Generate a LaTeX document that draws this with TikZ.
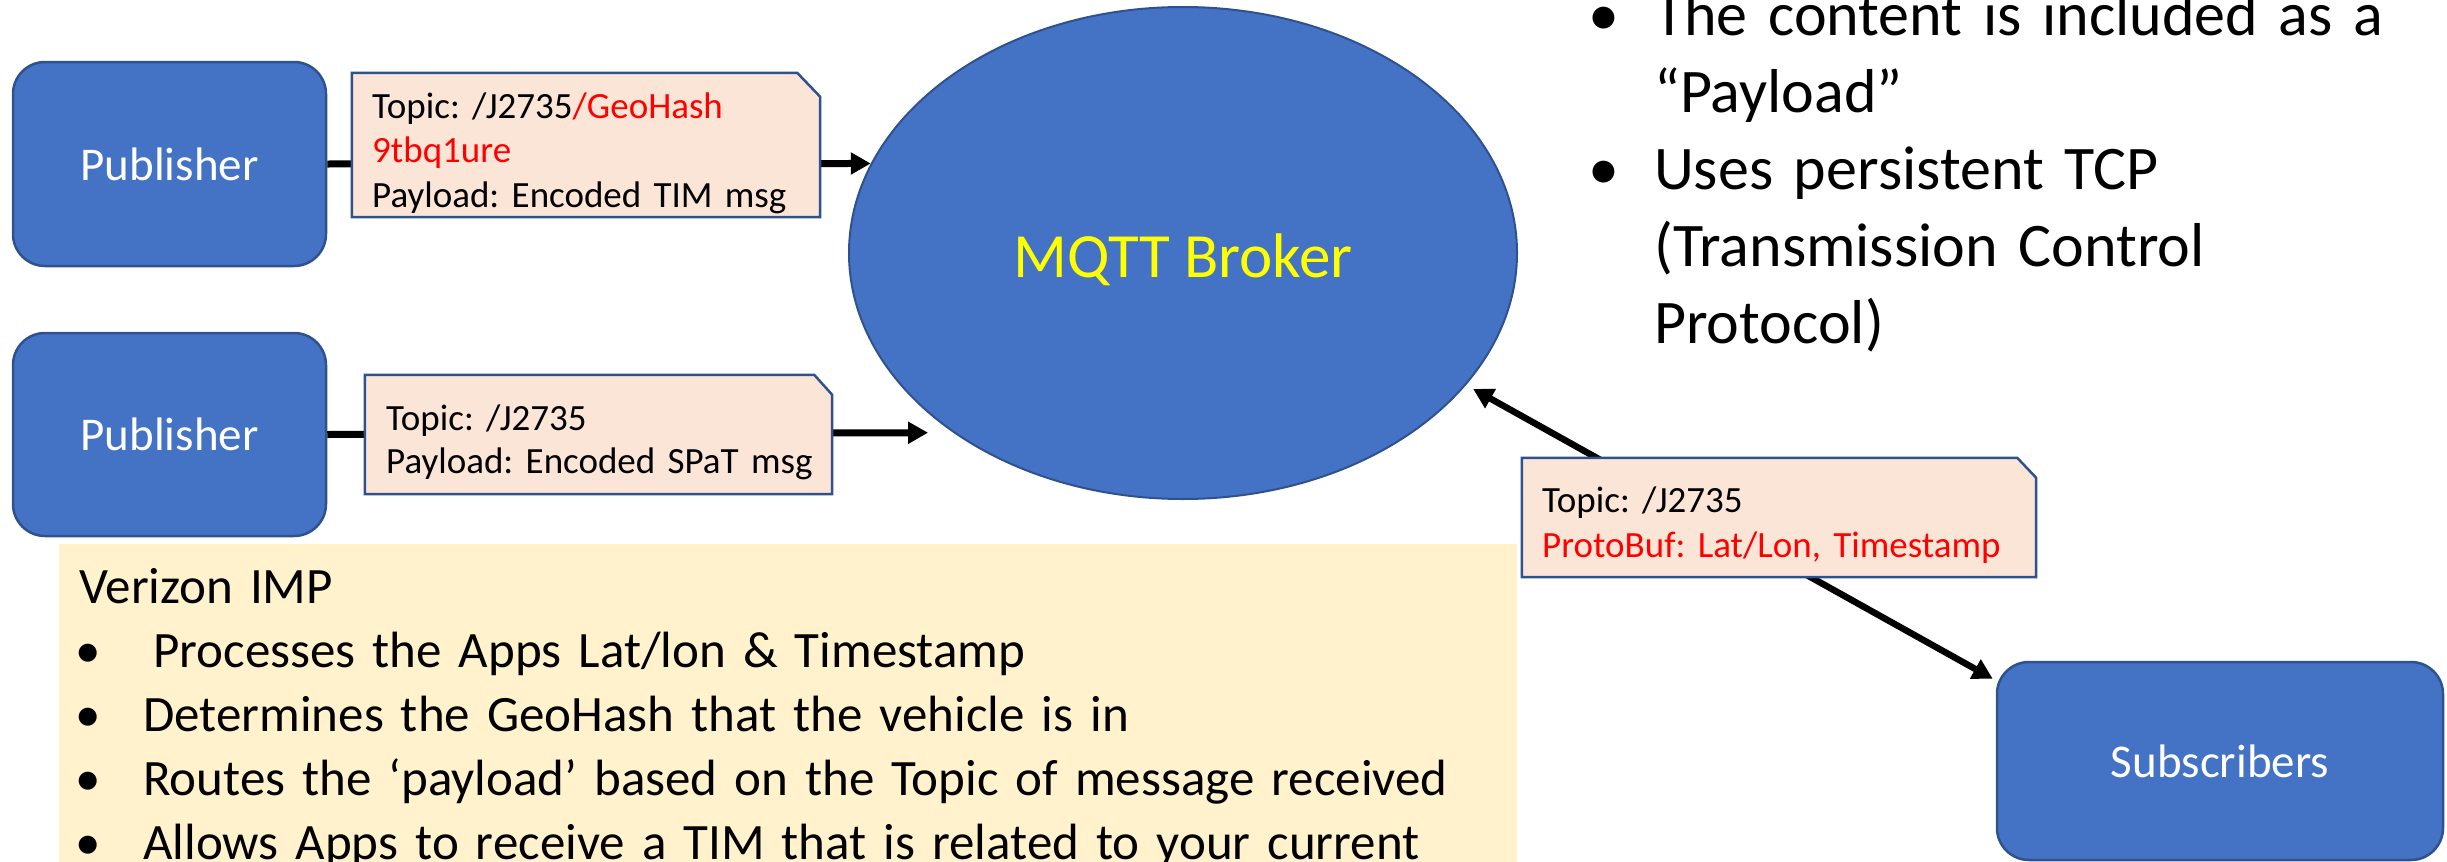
\documentclass[tikz,border=0pt]{standalone}
\usepackage{fontspec}
\setmainfont{Carlito}
\usetikzlibrary{shapes.geometric,arrows.meta}
\frenchspacing

\definecolor{boxblue}{HTML}{4472C4}
\definecolor{boxedge}{HTML}{2F528F}
\definecolor{notefill}{HTML}{FBE5D6}
\definecolor{impfill}{HTML}{FFF2CC}
\definecolor{alertred}{HTML}{FF0000}
\definecolor{brokertext}{HTML}{FFFF00}

\newcommand{\fsz}[2]{\fontsize{#1}{#2}\selectfont}
% bullet set in a fixed-width hanging column
\newcommand{\bul}[1]{\makebox[#1][l]{\hspace*{-4pt}•}}

% message card with a clipped top-right corner, drawn around a frame node
\newcommand{\notecard}[3]{%
  \filldraw[notebg] (#1.south west) -- (#1.north west)
    -- ([xshift=-#2pt]#1.north east) -- ([yshift=-#3pt]#1.north east)
    -- (#1.south east) -- cycle;}

\tikzset{
  actor/.style={rectangle, rounded corners=32pt, fill=boxblue, draw=boxedge,
    line width=2.5pt, text=white, font=\fsz{47}{57}, inner sep=0pt},
  broker/.style={ellipse, fill=boxblue, draw=boxedge, line width=2pt,
    text=brokertext, font=\fsz{63}{76}, inner sep=0pt,
    text height=48pt, text depth=0pt,
    minimum width=668pt, minimum height=492pt},
  cardframe/.style={rectangle, inner sep=0pt},
  notebg/.style={fill=notefill, draw=boxedge, line width=2.5pt, line join=miter},
  notetext/.style={anchor=base west, align=left, inner sep=0pt, text width=#1},
  flow/.style={line width=7pt, -{Triangle[length=20pt,width=21pt]}},
  twoway/.style={line width=6.5pt,
    {Triangle[length=20pt,width=21pt]}-{Triangle[length=20pt,width=21pt]}},
}

\begin{document}
\begin{tikzpicture}[x=1pt,y=-1pt]
\useasboundingbox (0,0) rectangle (2447,862);
\clip (0,0) rectangle (2447,862);

% Verizon IMP panel
\node[rectangle, fill=impfill, inner sep=0pt, anchor=north west,
      minimum width=1458pt, minimum height=360pt] (imp) at (59,544) {};
\node[notetext=1440pt, font=\fsz{51}{64}] (impt) at (79,603) {Verizon IMP\\
  \bul{64pt}\hspace*{10pt}Processes the Apps Lat/lon \& Timestamp\\
  \bul{64pt}Determines the GeoHash that the vehicle is in\\
  \bul{64pt}Routes the ‘payload’ based on the Topic of message received\\
  \bul{64pt}Allows Apps to receive a TIM that is related to your current};

% notes on the right
\node[notetext=840pt, font=\fsz{62}{77}] (tcp) at (1592,35) {%
  \bul{62pt}The content is included as a\\
  \hspace*{62pt}“Payload”\\
  \bul{62pt}Uses persistent TCP\\
  \hspace*{62pt}(Transmission Control\\
  \hspace*{62pt}Protocol)};

% parties
\node[actor, minimum width=313pt, minimum height=204pt] (p1) at (169.5,164) {Publisher};
\node[actor, minimum width=313pt, minimum height=203pt] (p2) at (169.5,434.5) {Publisher};
\node[actor, minimum width=446pt, minimum height=198pt] (sub) at (2220,761) {Subscribers};
\node[broker] (mq) at (1183,253) {MQTT Broker};

% message flows
\draw[flow] (p1.east) -- (mq.164.25);
\draw[flow, shorten >=25pt] (p2.east) -- (mq.218.97);
\draw[twoway, shorten <=8pt] (mq.-25.6) -- ([shift={(-3pt,-18pt)}]sub.north west);

% message cards
\node[cardframe, minimum width=468pt, minimum height=144pt] (c1) at (586,145) {};
\notecard{c1}{23}{24}
\node[notetext=440pt, font=\fsz{37}{44.5}] (c1t) at (372,118)
  {Topic: /J2735\textcolor{alertred}{/GeoHash}\\
   \textcolor{alertred}{9tbq1ure}\\
   Payload: Encoded TIM msg};

\node[cardframe, minimum width=467pt, minimum height=119pt] (c2) at (598.5,434.5) {};
\notecard{c2}{18}{20}
\node[notetext=440pt, font=\fsz{37}{43}] (c2t) at (386,430)
  {Topic: /J2735\\
   Payload: Encoded SPaT msg};

\node[cardframe, minimum width=514pt, minimum height=119pt] (c3) at (1779,517.5) {};
\notecard{c3}{19}{20}
\node[notetext=490pt, font=\fsz{37}{45}] (c3t) at (1542,512)
  {Topic: /J2735\\
   \textcolor{alertred}{ProtoBuf: Lat/Lon, Timestamp}};
\end{tikzpicture}
\end{document}
